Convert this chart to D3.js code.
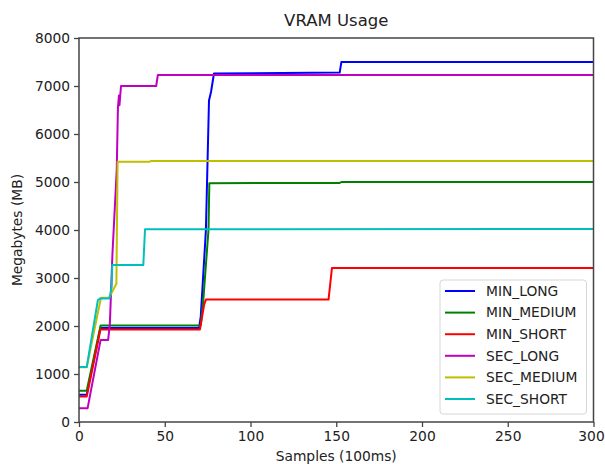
<!DOCTYPE html>
<html>
<head>
<meta charset="utf-8">
<script src="https://cdn.jsdelivr.net/npm/d3@7"></script>
<style>
  html, body { margin: 0; padding: 0; background: #fff; }
  svg { display: block; font-family: "DejaVu Sans", sans-serif; }
</style>
</head>
<body>
<svg id="chart" width="605" height="464"></svg>
<script>
// VRAM usage per run, sampled every 100 ms: [sample, megabytes]
const minLong   = [[0,570],[4.5,570],[12.5,1960],[70,1960],[71,2200],[74,4000],[75.8,6700],[77,6880],[78.7,7260],[152,7280],[153,7500],[300,7500]];
const minMedium = [[0,650],[4.5,650],[12.6,2010],[71,2010],[72.5,2550],[75.5,4000],[76,4975],[152,4980],[153,5000],[300,5000]];
const minShort  = [[0,530],[4.5,530],[12.5,1925],[70.5,1925],[73,2450],[74,2550],[145.5,2550],[147.5,3210],[300,3210]];
const secLong   = [[0,285],[5,285],[12.6,1710],[17,1710],[18,2050],[19.5,3500],[22,5250],[22.7,6550],[23.3,6800],[23.6,6600],[24.5,7000],[45,7000],[46,7230],[300,7230]];
const secMedium = [[0,1140],[4.5,1140],[12.8,2590],[17.5,2590],[21.8,2880],[22.5,5420],[41,5420],[42,5437],[300,5437]];
const secShort  = [[0,1145],[4.5,1145],[11,2540],[12.5,2575],[17.8,2575],[19,2820],[19.4,3270],[37.5,3270],[38.5,4015],[300,4020]];

const seriesNames = ["MIN_LONG", "MIN_MEDIUM", "MIN_SHORT", "SEC_LONG", "SEC_MEDIUM", "SEC_SHORT"];
const seriesValues = [minLong, minMedium, minShort, secLong, secMedium, secShort];
const xTicks = [0, 50, 100, 150, 200, 250, 300];
const yTicks = [0, 1000, 2000, 3000, 4000, 5000, 6000, 7000, 8000];

const colors = ["#0000ff", "#008000", "#ff0000", "#bf00bf", "#bfbf00", "#00bfbf"];

const svg = d3.select("#chart");
const plot = { left: 79, right: 593.5, top: 38, bottom: 422 };

const x = d3.scaleLinear().domain([0, 300]).range([plot.left, plot.right]);
const y = d3.scaleLinear().domain([0, 8000]).range([plot.bottom, plot.top]);

const axisColor = "#444";
const textColor = "#222";
const fontSize = 13.8;

// series lines
const line = d3.line().x(d => x(d[0])).y(d => y(d[1]));
svg.append("g").selectAll("path")
  .data(seriesValues)
  .join("path")
  .attr("d", line)
  .attr("fill", "none")
  .attr("stroke", (d, i) => colors[i])
  .attr("stroke-width", 2)
  .attr("stroke-linejoin", "round");

// axes
const xAxis = d3.axisBottom(x).tickValues(xTicks).tickFormat(d3.format("d")).tickSize(5).tickPadding(4);
const yAxis = d3.axisLeft(y).tickValues(yTicks).tickFormat(d3.format("d")).tickSize(5).tickPadding(4);

const gx = svg.append("g").attr("transform", `translate(0,${plot.bottom})`).call(xAxis);
const gy = svg.append("g").attr("transform", `translate(${plot.left},0)`).call(yAxis);
[gx, gy].forEach(g => {
  g.select(".domain").remove();
  g.selectAll(".tick line").attr("stroke", axisColor).attr("stroke-width", 1.3);
  g.selectAll(".tick text")
    .attr("fill", textColor)
    .style("font-size", fontSize + "px")
    .style("font-family", "DejaVu Sans, sans-serif");
});
// keep the last x label inside the page edge
gx.selectAll(".tick text").filter(d => d === 300).attr("dx", "-2.5");

// frame
svg.append("rect")
  .attr("x", plot.left).attr("y", plot.top)
  .attr("width", plot.right - plot.left).attr("height", plot.bottom - plot.top)
  .attr("fill", "none").attr("stroke", axisColor).attr("stroke-width", 1.5);

// titles
svg.append("text")
  .attr("x", (plot.left + plot.right) / 2).attr("y", 26)
  .attr("text-anchor", "middle")
  .attr("fill", textColor)
  .style("font-size", "16.5px")
  .text("VRAM Usage");

svg.append("text")
  .attr("x", (plot.left + plot.right) / 2).attr("y", 461)
  .attr("text-anchor", "middle")
  .attr("fill", textColor)
  .style("font-size", fontSize + "px")
  .text("Samples (100ms)");

svg.append("text")
  .attr("transform", `translate(22,${(plot.top + plot.bottom) / 2}) rotate(-90)`)
  .attr("text-anchor", "middle")
  .attr("fill", textColor)
  .style("font-size", fontSize + "px")
  .text("Megabytes (MB)");

// legend
const legend = svg.append("g").attr("transform", "translate(440,280)");
legend.append("rect")
  .attr("width", 146.5).attr("height", 134).attr("rx", 3)
  .attr("fill", "#fff").attr("fill-opacity", 0.8)
  .attr("stroke", "#d6d6d6").attr("stroke-width", 1);
const items = legend.selectAll("g.item")
  .data(seriesNames)
  .join("g")
  .attr("class", "item")
  .attr("transform", (d, i) => `translate(0,${11 + i * 21.6})`);
items.append("line")
  .attr("x1", 5).attr("x2", 35)
  .attr("stroke", (d, i) => colors[i]).attr("stroke-width", 2);
items.append("text")
  .attr("x", 46).attr("dy", "0.35em")
  .attr("fill", textColor)
  .style("font-size", fontSize + "px")
  .text(d => d);
</script>
</body>
</html>
